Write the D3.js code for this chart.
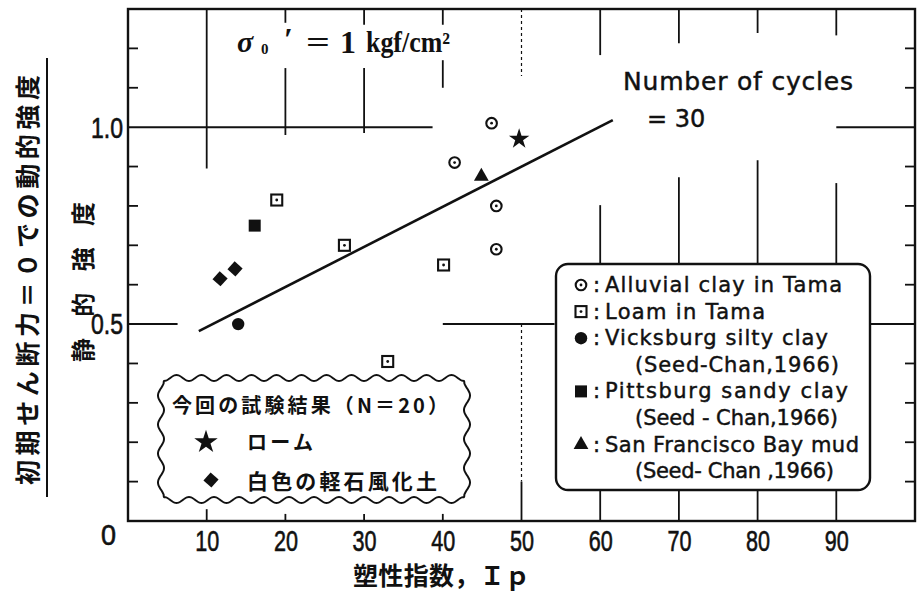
<!DOCTYPE html>
<html>
<head>
<meta charset="utf-8">
<script src="https://cdn.jsdelivr.net/npm/d3@7"></script>
<style>
  body { margin: 0; background: #fff; }
  svg { display: block; }
  .jp { font-family: "Noto Sans CJK JP", sans-serif; font-weight: 700; }
  .en { font-family: "DejaVu Sans", sans-serif; stroke: #111; stroke-width: 0.45; }
</style>
</head>
<body>
<svg id="chart" width="920" height="599"></svg>
<script>
// values (Ip, strength ratio)
const alluvialTama = [[46.2, 1.01], [41.5, 0.91], [46.8, 0.80], [46.8, 0.69]];
const loamTama = [[18.9, 0.815], [27.5, 0.70], [40.1, 0.65], [33.0, 0.405]];
const vicksburg = [[14.0, 0.50]];
const pittsburg = [[16.1, 0.75]];
const sfBayMud = [[44.9, 0.875]];
const loamTest = [[49.7, 0.97]];
const pumiceTest = [[11.7, 0.615], [13.6, 0.64]];
const trendLine = [[9.0, 0.482], [61.6, 1.018]];

const xTicks = [10, 20, 30, 40, 50, 60, 70, 80, 90];
const yTicks = [0, 0.5, 1.0];
const yMinor = [0.1, 0.2, 0.3, 0.4, 0.6, 0.7, 0.8, 0.9, 1.1, 1.2];

const legendLabels = [
  'Alluvial clay in Tama', 'Loam in Tama', 'Vicksburg silty clay', '(Seed-Chan,1966)',
  'Pittsburg sandy clay', '(Seed - Chan,1966)', 'San Francisco Bay mud', '(Seed- Chan ,1966)'
];
const legendSymbols = ['circleDot', 'squareDot', 'circle', null, 'square', null, 'triangle', null];
// printed line widths in the box, px
const legendWidths = [237, 160, 223, 204, 243, 203, 254, 199];

// grid pieces as in the print: [x, [yFrom, yTo], dashed]
const vGrid = [
  [10, [1.3, 0.895]], [10, [0.03, 0]],
  [20, [1.3, 1.265]], [20, [1.15, 0.98]], [20, [0.018, 0]],
  [30, [1.3, 1.26]], [30, [1.15, 0.985]], [30, [0.018, 0]],
  [40, [1.3, 1.26]], [40, [1.17, 1.1]], [40, [0.018, 0]],
  [50, [1.3, 1.13], true], [50, [0.5, 0.1], true], [50, [0.1, 0]],
  [60, [1.3, 1.183]], [60, [0.802, 0.655]], [60, [0.079, 0]],
  [70, [1.3, 1.213]], [70, [0.873, 0.655]], [70, [0.079, 0]],
  [80, [1.3, 1.239]], [80, [0.916, 0.655]], [80, [0.079, 0]],
  [90, [1.3, 1.233]], [90, [0.858, 0.655]], [90, [0.079, 0]]
];
const hGrid = [
  [1.0, [0, 38.7]], [1.0, [90, 100]],
  [0.5, [0, 6.3]], [0.5, [40.0, 54.2]], [0.5, [94.2, 100]]
];

const svg = d3.select('#chart');
const x = d3.scaleLinear().domain([0, 100]).range([128, 915]);
const y = d3.scaleLinear().domain([0, 1.3]).range([521, 9]);
const ink = '#111';

const plot = svg.append('g');

// grid
plot.selectAll('line.vg').data(vGrid).join('line')
  .attr('class', 'vg')
  .attr('x1', d => x(d[0])).attr('x2', d => x(d[0]))
  .attr('y1', d => y(d[1][0])).attr('y2', d => y(d[1][1]))
  .attr('stroke', ink)
  .attr('stroke-width', d => d[2] ? 1.2 : 1.8)
  .attr('stroke-dasharray', d => d[2] ? '3,3' : null);

plot.selectAll('line.hg').data(hGrid).join('line')
  .attr('class', 'hg')
  .attr('y1', d => y(d[0])).attr('y2', d => y(d[0]))
  .attr('x1', d => x(d[1][0])).attr('x2', d => x(d[1][1]))
  .attr('stroke', ink).attr('stroke-width', 2);

// minor ticks, both sides, pointing in
plot.selectAll('line.tl').data(yMinor).join('line')
  .attr('x1', x(0)).attr('x2', x(0) + 10)
  .attr('y1', d => y(d)).attr('y2', d => y(d))
  .attr('stroke', ink).attr('stroke-width', 1.8);
plot.selectAll('line.tr').data(yMinor).join('line')
  .attr('x1', x(100) - 10).attr('x2', x(100))
  .attr('y1', d => y(d)).attr('y2', d => y(d))
  .attr('stroke', ink).attr('stroke-width', 1.8);

// frame
plot.append('rect')
  .attr('x', x(0)).attr('y', y(1.3))
  .attr('width', x(100) - x(0)).attr('height', y(0) - y(1.3))
  .attr('fill', 'none').attr('stroke', ink).attr('stroke-width', 2.4);

// axes (labels only)
const xAxis = svg.append('g')
  .attr('transform', `translate(0,${y(0)})`)
  .call(d3.axisBottom(x).tickValues(xTicks).tickSize(0).tickPadding(9));
xAxis.select('.domain').remove();
xAxis.selectAll('text')
  .attr('font-family', 'Liberation Sans, sans-serif')
  .attr('font-size', 29).attr('fill', ink)
  .attr('stroke', ink).attr('stroke-width', 0.6)
  .attr('textLength', 24).attr('lengthAdjust', 'spacingAndGlyphs');

const yAxis = svg.append('g')
  .attr('transform', `translate(${x(0)},0)`)
  .call(d3.axisLeft(y).tickValues(yTicks).tickSize(0).tickPadding(5)
    .tickFormat(d => d === 0 ? '0' : d.toFixed(1)));
yAxis.select('.domain').remove();
yAxis.selectAll('text')
  .attr('font-family', 'Liberation Sans, sans-serif')
  .attr('font-size', 29).attr('fill', ink)
  .attr('stroke', ink).attr('stroke-width', 0.6)
  .attr('textLength', d => d === 0 ? 15 : 32).attr('lengthAdjust', 'spacingAndGlyphs')
  .attr('dx', d => d === 0 ? -7 : 0)
  .attr('dy', d => d === 0 ? '0.8em' : '0.34em');

// regression line
plot.append('path')
  .datum(trendLine)
  .attr('d', d3.line().x(d => x(d[0])).y(d => y(d[1])))
  .attr('stroke', ink).attr('stroke-width', 2.6).attr('fill', 'none');

// markers
function marker(g, type, cx, cy) {
  const m = g.append('g').attr('transform', `translate(${cx},${cy})`);
  if (type === 'circleDot') {
    m.append('circle').attr('r', 5.3).attr('fill', '#fff').attr('stroke', ink).attr('stroke-width', 2.1);
    m.append('circle').attr('r', 1.4).attr('fill', ink);
  } else if (type === 'squareDot') {
    m.append('rect').attr('x', -5.5).attr('y', -5.5).attr('width', 11).attr('height', 11)
      .attr('fill', '#fff').attr('stroke', ink).attr('stroke-width', 2.1);
    m.append('circle').attr('r', 1.4).attr('fill', ink);
  } else if (type === 'circle') {
    m.append('circle').attr('r', 6.2).attr('fill', ink);
  } else if (type === 'square') {
    m.append('rect').attr('x', -6).attr('y', -6).attr('width', 12).attr('height', 12).attr('fill', ink);
  } else if (type === 'triangle') {
    m.append('path').attr('d', d3.symbol(d3.symbolTriangle, 95)()).attr('fill', ink);
  } else if (type === 'star') {
    m.append('path').attr('d', d3.symbol(d3.symbolStar, 130)()).attr('fill', ink);
  } else if (type === 'diamond') {
    m.append('path').attr('d', d3.symbol(d3.symbolSquare, 115)()).attr('transform', 'rotate(42)').attr('fill', ink);
  }
  return m;
}

const series = [
  [alluvialTama, 'circleDot'], [loamTama, 'squareDot'], [vicksburg, 'circle'],
  [pittsburg, 'square'], [sfBayMud, 'triangle'], [loamTest, 'star'], [pumiceTest, 'diamond']
];
const pts = svg.append('g');
series.forEach(([data, type]) => data.forEach(d => marker(pts, type, x(d[0]), y(d[1]))));

// σ0' label
const sig = svg.append('g').attr('font-family', 'Liberation Serif, serif').attr('font-weight', 700).attr('fill', ink);
sig.append('text').attr('x', 237).attr('y', 52).attr('font-size', 30).attr('font-style', 'italic').text('σ');
sig.append('text').attr('x', 261).attr('y', 54).attr('font-size', 15).text('0');
sig.append('text').attr('x', 284).attr('y', 50).attr('font-size', 32).text('′');
sig.append('text').attr('x', 306).attr('y', 52).attr('font-size', 30).attr('textLength', 24)
  .attr('lengthAdjust', 'spacingAndGlyphs').text('=');
sig.append('text').attr('x', 340).attr('y', 53).attr('font-size', 32).text('1');
sig.append('text').attr('x', 366).attr('y', 52).attr('font-size', 29)
  .attr('textLength', 84).attr('lengthAdjust', 'spacingAndGlyphs').text('kgf/cm²');

// number of cycles
svg.append('text').attr('class', 'en').attr('x', 623).attr('y', 90)
  .attr('font-size', 25).attr('fill', ink).attr('textLength', 230).text('Number of cycles');
svg.append('text').attr('class', 'en').attr('x', 647).attr('y', 127)
  .attr('font-size', 24).attr('fill', ink).text('= 30');

// english legend
const leg = svg.append('g');
leg.append('rect').attr('x', 556).attr('y', 264).attr('width', 314).attr('height', 226)
  .attr('rx', 12).attr('fill', '#fff').attr('stroke', ink).attr('stroke-width', 2.4);
legendLabels.forEach((t, i) => {
  const by = 292 + i * 26.6;
  const sym = legendSymbols[i];
  if (sym) {
    marker(leg, sym, 581, by - 7);
    leg.append('text').attr('class', 'en').attr('x', 593).attr('y', by)
      .attr('font-size', 21).attr('fill', ink).text(':');
  }
  leg.append('text').attr('class', 'en')
    .attr('x', sym ? 605 : 635).attr('y', by)
    .attr('font-size', 21).attr('fill', ink)
    .attr('textLength', legendWidths[i]).text(t);
});

// wavy japanese legend box
function wavyBox(x0, y0, x1, y1, period, amp) {
  const p = [];
  const edge = (ax, ay, bx, by, nx, ny) => {
    const len = Math.hypot(bx - ax, by - ay);
    const n = Math.max(1, Math.round(len / period));
    const steps = n * 12;
    for (let k = 0; k < steps; k++) {
      const t = k / steps;
      const w = amp * (1 - Math.cos(2 * Math.PI * n * t)) / 2;
      p.push([ax + (bx - ax) * t + nx * w, ay + (by - ay) * t + ny * w]);
    }
  };
  edge(x0, y0, x1, y0, 0, -1);
  edge(x1, y0, x1, y1, 1, 0);
  edge(x1, y1, x0, y1, 0, 1);
  edge(x0, y1, x0, y0, -1, 0);
  return d3.line().curve(d3.curveCatmullRomClosed)(p);
}
const jl = svg.append('g');
jl.append('path').attr('d', wavyBox(164, 381, 464, 497, 26, 6))
  .attr('fill', '#fff').attr('stroke', ink).attr('stroke-width', 2);
jl.append('text').attr('class', 'jp').attr('x', 172).attr('y', 413)
  .attr('font-size', 20).attr('textLength', 276).attr('fill', ink).text('今回の試験結果（N＝20）');
marker(jl, 'star', 206, 442).select('path').attr('d', d3.symbol(d3.symbolStar, 170)());
jl.append('text').attr('class', 'jp').attr('x', 247).attr('y', 450)
  .attr('font-size', 20).attr('textLength', 66).attr('fill', ink).text('ローム');
marker(jl, 'diamond', 211, 480);
jl.append('text').attr('class', 'jp').attr('x', 247).attr('y', 489)
  .attr('font-size', 21).attr('textLength', 190).attr('fill', ink).text('白色の軽石風化土');

// axis titles
svg.append('text').attr('class', 'jp').attr('x', 353).attr('y', 585)
  .attr('font-size', 25).attr('textLength', 177).attr('fill', ink).text('塑性指数，Ｉｐ');

const yl = svg.append('g').attr('fill', ink);
yl.append('text').attr('class', 'jp')
  .attr('transform', 'translate(37,280) rotate(-90)')
  .attr('text-anchor', 'middle').attr('font-size', 25).attr('textLength', 410)
  .text('初期せん断力＝０での動的強度');
yl.append('line').attr('x1', 47).attr('x2', 47).attr('y1', 58).attr('y2', 497)
  .attr('stroke', ink).attr('stroke-width', 2);
yl.append('text').attr('class', 'jp')
  .attr('transform', 'translate(92,282) rotate(-90)')
  .attr('text-anchor', 'middle').attr('font-size', 24).attr('textLength', 160)
  .text('静的強度');
</script>
</body>
</html>
